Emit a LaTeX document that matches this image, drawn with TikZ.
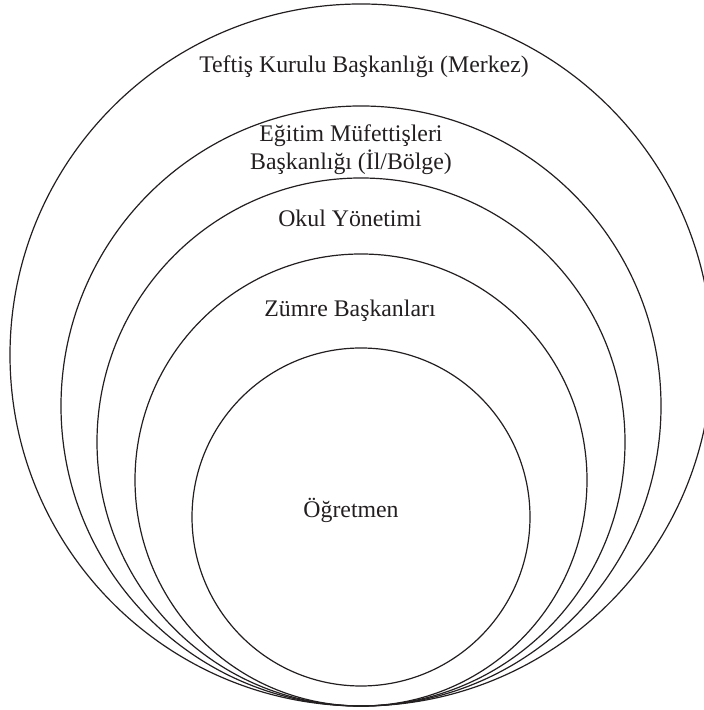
\documentclass[tikz,border=0pt]{standalone}
\usepackage{fontspec}
\setmainfont{Liberation Serif}
\usepackage{tikz}
\usetikzlibrary{calc,positioning}
\definecolor{ink}{HTML}{231F20}

\begin{document}
\begin{tikzpicture}[x=0.5pt,y=0.5pt,
	ring/.style={draw=ink, line width=0.6pt},
	lbl/.style={text=ink, inner sep=0pt, anchor=base, align=center,
		font=\fontsize{11.9}{14}\selectfont}]
	\useasboundingbox (0,0) rectangle (704,710);
	\clip (0,0) rectangle (704,710);

	% Nested circles, from outside to inside
	\draw[ring] (361,355) circle[radius=351];
	\draw[ring] (361,304) circle[radius=300];
	\draw[ring] (361,268) circle[radius=264];
	\draw[ring] (361,230) circle[radius=226];
	\draw[ring] (361,193) circle[radius=169];

	% Level names
	\node[lbl] (merkez) at (364,637) {Teftiş Kurulu Başkanlığı (Merkez)};
	\node[lbl] (il) at (351,540) {Eğitim Müfettişleri\\Başkanlığı (İl/Bölge)};
	\node[lbl] (okul) at (350,483) {Okul Yönetimi};
	\node[lbl] (zumre) at (350,393) {Zümre Başkanları};
	\node[lbl] (ogretmen) at (351,192) {Öğretmen};
\end{tikzpicture}
\end{document}
